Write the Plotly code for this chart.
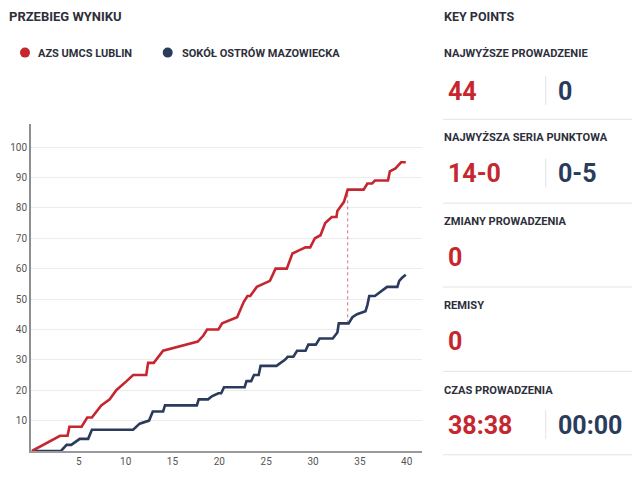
import plotly.graph_objects as go

# ---------------- data ----------------
team_home = "AZS UMCS LUBLIN"
team_away = "SOKÓŁ OSTRÓW MAZOWIECKA"

home_time = [0, 3.0, 3.8, 4.0, 5.3, 5.9, 6.4, 7.4, 8.3, 9.0, 10.1, 10.8, 12.2, 12.4, 13.0,
             14.0, 17.7, 18.3, 18.7, 19.9, 20.3, 21.9, 22.6, 23.0, 23.3, 24.0, 25.4, 26.0,
             27.2, 27.8, 28.5, 29.2, 29.7, 30.2, 30.8, 31.3, 32.0, 32.5, 32.6, 33.3, 33.7,
             35.4, 35.8, 36.3, 36.6, 38.0, 38.2, 38.8, 39.1, 39.4, 39.9]
home_score = [0, 5, 5, 8, 8, 11, 11, 15, 17, 20, 23, 25, 25, 29, 29,
              33, 36, 38, 40, 40, 42, 44, 49, 51, 51, 54, 56, 60,
              60, 65, 66, 67, 67, 70, 71, 75, 77, 77, 79, 82, 86,
              86, 88, 88, 89, 89, 92, 93, 94, 95, 95]

away_time = [0, 3.1, 3.7, 4.2, 5.1, 6.0, 6.4, 10.8, 11.5, 12.3, 12.5, 12.9, 14.0, 14.2,
             17.6, 17.8, 18.8, 19.2, 19.9, 20.2, 20.5, 22.7, 22.9, 23.4, 23.7, 24.2, 24.4,
             26.1, 27.0, 27.3, 27.9, 28.3, 29.2, 29.5, 30.3, 30.7, 32.1, 32.6, 32.75, 33.8,
             34.2, 34.7, 35.6, 35.8, 36.0, 36.6, 37.0, 37.9, 39.0, 39.2, 39.5, 39.9]
away_score = [0, 0, 2, 2, 4, 4, 7, 7, 9, 10, 10, 13, 13, 15,
              15, 17, 17, 18, 19, 19, 21, 21, 23, 23, 25, 25, 28,
              28, 30, 31, 31, 33, 33, 35, 35, 37, 37, 39, 42, 42,
              44, 45, 46, 48, 51, 51, 52, 54, 54, 56, 57, 58]

max_lead_time = 33.7
max_lead_scores = [42, 86]

x_ticks = [5, 10, 15, 20, 25, 30, 35, 40]
y_ticks = [10, 20, 30, 40, 50, 60, 70, 80, 90, 100]

key_labels = ["NAJWYŻSZE PROWADZENIE", "NAJWYŻSZA SERIA PUNKTOWA",
              "ZMIANY PROWADZENIA", "REMISY", "CZAS PROWADZENIA"]
key_home = ["44", "14-0", "0", "0", "38:38"]
key_away = ["0", "0-5", None, None, "00:00"]

# ---------------- style ----------------
RED = "#c5262f"
NAVY = "#2a3b5c"
DARK = "#2d2f3b"
OFF = 8  # page body margin
W, H = 640 - OFF, 477 - OFF
L, R_EDGE, T, B_EDGE = 31 - OFF, 422 - OFF, 124 - OFF, 451.5 - OFF
PW, PH = R_EDGE - L, B_EDGE - T

ROBOTO = "Roboto, sans-serif"


def px(x):
    return (x - OFF - L) / PW


def py(y):
    return (B_EDGE - (y - OFF)) / PH


fig = go.Figure()

fig.add_trace(go.Scatter(x=[max_lead_time, max_lead_time], y=max_lead_scores, mode="lines",
                         line=dict(color="#d9707a", width=1, dash="dot"),
                         hoverinfo="skip", showlegend=False))
fig.add_trace(go.Scatter(x=away_time, y=away_score, mode="lines", name=team_away,
                         line=dict(color=NAVY, width=2.6), showlegend=False))
fig.add_trace(go.Scatter(x=home_time, y=home_score, mode="lines", name=team_home,
                         line=dict(color=RED, width=2.6), showlegend=False))

annotations = []
shapes = []


def add_text(text, x, y, size, color, family=ROBOTO, bold=True, xanchor="left"):
    annotations.append(dict(text=text, x=px(x), y=py(y), xref="paper", yref="paper",
                            xanchor=xanchor, yanchor="middle", showarrow=False,
                            font=dict(size=size, color=color, family=family,
                                      weight="bold" if bold else "normal")))


# titles
add_text("PRZEBIEG WYNIKU", 7, 16, 13, DARK)
add_text("KEY POINTS", 442, 16, 12.5, DARK)

# legend
for cx, col, name, tx in [(25, RED, team_home, 36), (167.7, NAVY, team_away, 180)]:
    shapes.append(dict(type="circle", xref="paper", yref="paper",
                       x0=px(cx - 5), x1=px(cx + 5), y0=py(52.5 + 5), y1=py(52.5 - 5),
                       fillcolor=col, line=dict(width=0)))
    add_text(name, tx, 53, 11, DARK)

# key points panel
label_y = [53.3, 137.3, 221.7, 306, 390.7]
value_y = [91, 173.5, 258, 342, 425.5]
sep_y = [119.3, 203.3, 287.3, 371.7, 455.3]
for lab, hv, av, ly, vy, sy in zip(key_labels, key_home, key_away, label_y, value_y, sep_y):
    add_text(lab, 442, ly, 11.1, DARK)
    add_text(hv, 445.5, vy, 25, RED)
    if av is not None:
        add_text(av, 555.5, vy, 25, NAVY)
        shapes.append(dict(type="line", xref="paper", yref="paper",
                           x0=px(545.7), x1=px(545.7), y0=py(vy - 15), y1=py(vy + 14),
                           line=dict(color="#e3e3e3", width=1)))
    shapes.append(dict(type="line", xref="paper", yref="paper",
                       x0=px(443), x1=px(640), y0=py(sy), y1=py(sy),
                       line=dict(color="#e3e3e3", width=1)))

fig.update_layout(
    width=W, height=H,
    margin=dict(l=L, r=W - R_EDGE, t=T, b=H - B_EDGE, pad=0),
    paper_bgcolor="white", plot_bgcolor="white",
    showlegend=False,
    annotations=annotations, shapes=shapes,
    xaxis=dict(range=[-0.1, 41.63], tickvals=x_ticks, showgrid=False, zeroline=False,
               showline=True, linecolor="#9a9a9a", linewidth=1.5, automargin=False,
               tickfont=dict(size=10, color="#555555", family=ROBOTO), ticks=""),
    yaxis=dict(range=[0, 107.6], tickvals=y_ticks, showgrid=True, gridcolor="#ececec",
               gridwidth=1, zeroline=False, showline=True, linecolor="#8f8f8f", linewidth=1.8,
               automargin=False,
               tickfont=dict(size=10, color="#555555", family=ROBOTO), ticks=""),
)

fig.write_html("out.html")
